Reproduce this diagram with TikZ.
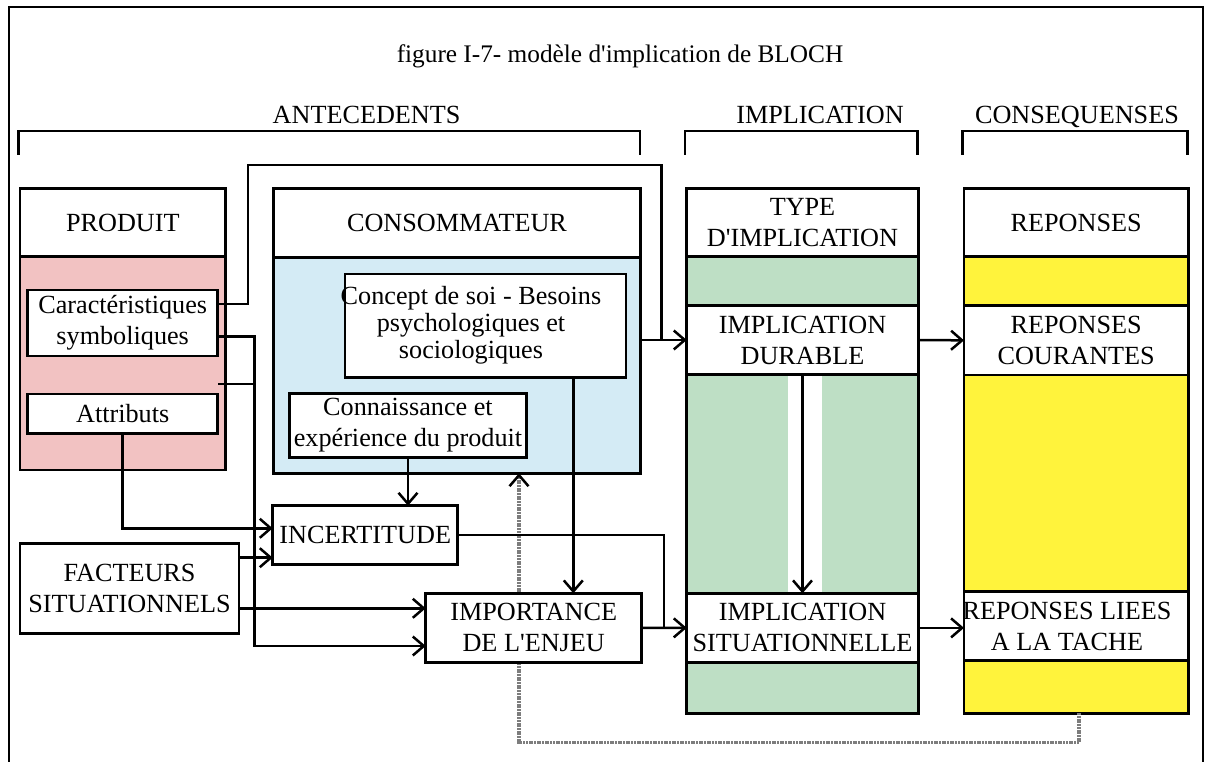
\documentclass[tikz,border=0pt]{standalone}
\usepackage{fontspec}
\setmainfont{Liberation Serif}
\newfontfamily\diag{Liberation Serif}
\usetikzlibrary{arrows.meta,calc}
\definecolor{pinkfill}{RGB}{242,194,194}
\definecolor{bluefill}{RGB}{212,235,245}
\definecolor{greenfill}{RGB}{190,223,197}
\definecolor{yellowfill}{RGB}{255,243,60}
\definecolor{fbgray}{RGB}{125,125,125}
\begin{document}
\begin{tikzpicture}[x=1pt,y=-1pt,
  every node/.style={font=\diag\fontsize{26.2}{31}\selectfont, inner sep=0pt, outer sep=0pt},
  box/.style={draw, line width=2.7pt, fill=white, align=center, anchor=north west},
  colbody/.style={draw, line width=2.7pt, anchor=north west},
  txt/.style={align=center},
  lbl/.style={anchor=base},
  wire/.style={line width=2.5pt},
  arr/.style={wire, -{Straight Barb[length=11pt,width=19pt]}},
  fb/.style={line width=3.4pt, draw=fbgray, dash pattern=on 2pt off 0.7pt,
             -{Straight Barb[length=11pt,width=19pt,color=black,line width=2.5pt]}}
]
\useasboundingbox (0,0) rectangle (1211,762);

% outer frame (open at the bottom)
\draw[line width=2.5pt] (9,775) -- (9,7) -- (1203,7) -- (1203,775);

% title and group labels
\node[lbl, font=\diag\fontsize{25.3}{30}\selectfont] (title) at (620,63) {figure I-7- modèle d'implication de BLOCH};
\node[lbl] (antlbl) at (366.6,123.3) {ANTECEDENTS};
\node[lbl] (implbl) at (820,123.3) {IMPLICATION};
\node[lbl] (conslbl) at (1077,123.3) {CONSEQUENSES};

% group brackets
\draw[wire] (18.3,155) -- (18.3,131) -- (640,131) -- (640,155);
\draw[wire] (685,155) -- (685,131) -- (917.3,131) -- (917.3,155);
\draw[wire] (962.7,155) -- (962.7,131) -- (1187.3,131) -- (1187.3,155);

% coloured column bodies
\node[colbody, fill=pinkfill, minimum width=205.7pt, minimum height=213.3pt] (pbody) at (20,256.7) {};
\node[colbody, fill=bluefill, minimum width=367.4pt, minimum height=216pt] (cbody) at (273.3,257.3) {};
\node[colbody, fill=greenfill, minimum width=231.6pt, minimum height=456.6pt] (tbody) at (686.7,256.7) {};
\node[colbody, fill=yellowfill, minimum width=224.3pt, minimum height=456.6pt] (rbody) at (964,256.7) {};

% light channel between the two implication boxes
\fill[white] (787.7,374.5) rectangle (821.7,593.3);

% feedback path from the responses back to the consumer
\coordinate (fbx) at (519,742.7);
\draw[fb] ([xshift=2.8pt]rbody.south) |- (fbx) -- (fbx |- cbody.south);

% column headers
\node[box, minimum width=205.7pt, minimum height=68.4pt] (phead) at (20,188.3) {PRODUIT};
\node[box, minimum width=367.4pt, minimum height=69pt] (chead) at (273.3,188.3) {CONSOMMATEUR};
\node[box, minimum width=231.6pt, minimum height=68.4pt] (thead) at (686.7,188.3) {TYPE\\D'IMPLICATION};
\node[box, minimum width=224.3pt, minimum height=68.4pt] (rhead) at (964,188.3) {REPONSES};

% inner boxes
\node[box, minimum width=190pt, minimum height=66pt] (carac) at (27.7,290) {Caractéristiques\\symboliques};
\node[box, minimum width=190pt, minimum height=39.3pt] (attr) at (27.7,394) {Attributs};
\node[box, minimum width=281pt, minimum height=103.3pt] (concept) at (345,274) {};
\node[txt, font=\diag\fontsize{26.2}{27}\selectfont] (concepttxt) at (471,325.7)
  {Concept de soi - Besoins\\psychologiques et\\sociologiques};
\node[box, minimum width=237.4pt, minimum height=64pt] (conn) at (289.3,393.3) {Connaissance et\\expérience du produit};
\node[box, minimum width=185pt, minimum height=58.6pt] (incert) at (272.7,505.7) {INCERTITUDE};
\node[box, minimum width=219pt, minimum height=90pt] (fact) at (20,543.3) {FACTEURS\\SITUATIONNELS};
\node[box, minimum width=216pt, minimum height=69pt] (enjeu) at (425.7,593.3) {IMPORTANCE\\DE L'ENJEU};
\node[box, minimum width=231.6pt, minimum height=69pt] (durable) at (686.7,305.5) {IMPLICATION\\DURABLE};
\node[box, minimum width=231.6pt, minimum height=69.2pt] (situ) at (686.7,593.3) {IMPLICATION\\SITUATIONNELLE};
\node[box, minimum width=224.3pt, minimum height=69.3pt] (courant) at (964,305.7) {REPONSES\\COURANTES};
\node[box, minimum width=224.3pt, minimum height=69pt] (liees) at (964,591.7) {};
\node[txt] (lieestxt) at (1067,626.2) {REPONSES LIEES\\A LA TACHE};

% connectors
\coordinate (pstub) at (218,384);
\coordinate (cs) at ([xshift=87.8pt]concept.south);
\coordinate (mid) at ($(enjeu.east)!0.5!(situ.west)$);

\draw[wire] ([yshift=19pt]carac.east) -| (248,165) -| (661.7,340);
\draw[arr] (cbody.east |- durable.west) -- (durable.west);
\draw[arr] ([yshift=-13.3pt]carac.east) -| (254.5,646) -- ([yshift=-18.2pt]enjeu.west);
\draw[wire] (pstub) -- (254.5,384);
\draw[arr] (attr.south) |- ([yshift=6.7pt]incert.west);
\draw[arr] ([yshift=30.6pt]fact.east) -- ([yshift=-22.7pt]incert.west);
\draw[arr] ([yshift=-20pt]fact.east) -- ([yshift=19.5pt]enjeu.west);
\draw[arr] (conn.south) -- (conn.south |- incert.north);
\draw[arr] (cs) -- (cs |- enjeu.north);
\draw[wire] (incert.east) -| (mid);
\draw[arr] (enjeu.east) -- (situ.west);
\draw[arr] (durable.east) -- (courant.west);
\draw[arr] (situ.east) -- (situ.east -| liees.west);
\draw[arr] (durable.south) -- (situ.north);
\end{tikzpicture}
\end{document}
